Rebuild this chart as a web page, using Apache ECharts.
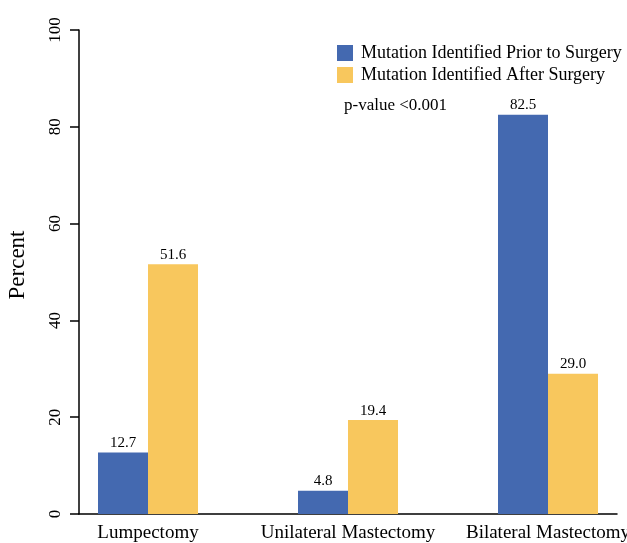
<!DOCTYPE html>
<html>
<head>
<meta charset="utf-8">
<script src="https://cdn.jsdelivr.net/npm/echarts@6/dist/echarts.min.js"></script>
<style>html,body{margin:0;padding:0;background:#fff;}#c{width:627px;height:543px;}</style>
</head>
<body>
<div id="c"></div>
<script>
const categories = ['Lumpectomy', 'Unilateral Mastectomy', 'Bilateral Mastectomy'];
const priorValues = [12.7, 4.8, 82.5];
const afterValues = [51.6, 19.4, 29.0];
const seriesNames = ['Mutation Identified Prior to Surgery', 'Mutation Identified After Surgery'];
const yTicks = [0, 20, 40, 60, 80, 100];

const FONT = 'Liberation Serif, Times New Roman, serif';
const chart = echarts.init(document.getElementById('c'));
const toPts = arr => arr.map((v, i) => [i, v]);
const label = {
  show: true, position: 'top', distance: 2,
  fontFamily: FONT, fontSize: 15, color: '#000',
  formatter: p => p.value[1].toFixed(1)
};
chart.setOption({
  animation: false,
  textStyle: { fontFamily: FONT },
  title: {
    text: 'p-value <0.001', left: 339, top: 92,
    textStyle: { fontFamily: FONT, fontSize: 17, fontWeight: 'normal', color: '#000' }
  },
  legend: {
    orient: 'vertical', left: 332, top: 39,
    itemWidth: 16, itemHeight: 16, itemGap: 4,
    icon: 'rect',
    textStyle: { fontFamily: FONT, fontSize: 18, color: '#000', padding: [0, 0, 0, 3] },
    data: seriesNames
  },
  grid: { left: 79, right: 10, top: 30, bottom: 29, containLabel: false, outerBoundsMode: 'none' },
  xAxis: {
    type: 'value', min: -0.345, max: 2.345,
    axisLine: { show: true, onZero: false, lineStyle: { color: '#000', width: 1.5 } },
    axisTick: { show: false },
    splitLine: { show: false },
    axisLabel: {
      customValues: [0, 1, 2],
      formatter: v => categories[Math.round(v)],
      fontFamily: FONT, fontSize: 19, color: '#000', margin: 10
    }
  },
  yAxis: {
    type: 'value', min: yTicks[0], max: yTicks[yTicks.length - 1], interval: 20,
    name: 'Percent', nameLocation: 'middle', nameGap: 34, nameRotate: 90,
    nameTextStyle: { fontFamily: FONT, fontSize: 23, color: '#000', padding: [0, 0, 16, 14] },
    axisLine: { show: true, onZero: false, lineStyle: { color: '#000', width: 1.5 } },
    axisTick: { show: true, length: 9, lineStyle: { color: '#000', width: 1.5 } },
    splitLine: { show: false },
    axisLabel: { rotate: 90, fontFamily: FONT, fontSize: 17, color: '#000', margin: 15 }
  },
  series: [
    { name: seriesNames[0], type: 'bar', data: toPts(priorValues), barWidth: 50, barGap: '0%',
      itemStyle: { color: '#4469B0' }, label },
    { name: seriesNames[1], type: 'bar', data: toPts(afterValues), barWidth: 50, barGap: '0%',
      itemStyle: { color: '#F8C75D' }, label }
  ]
});
</script>
</body>
</html>
